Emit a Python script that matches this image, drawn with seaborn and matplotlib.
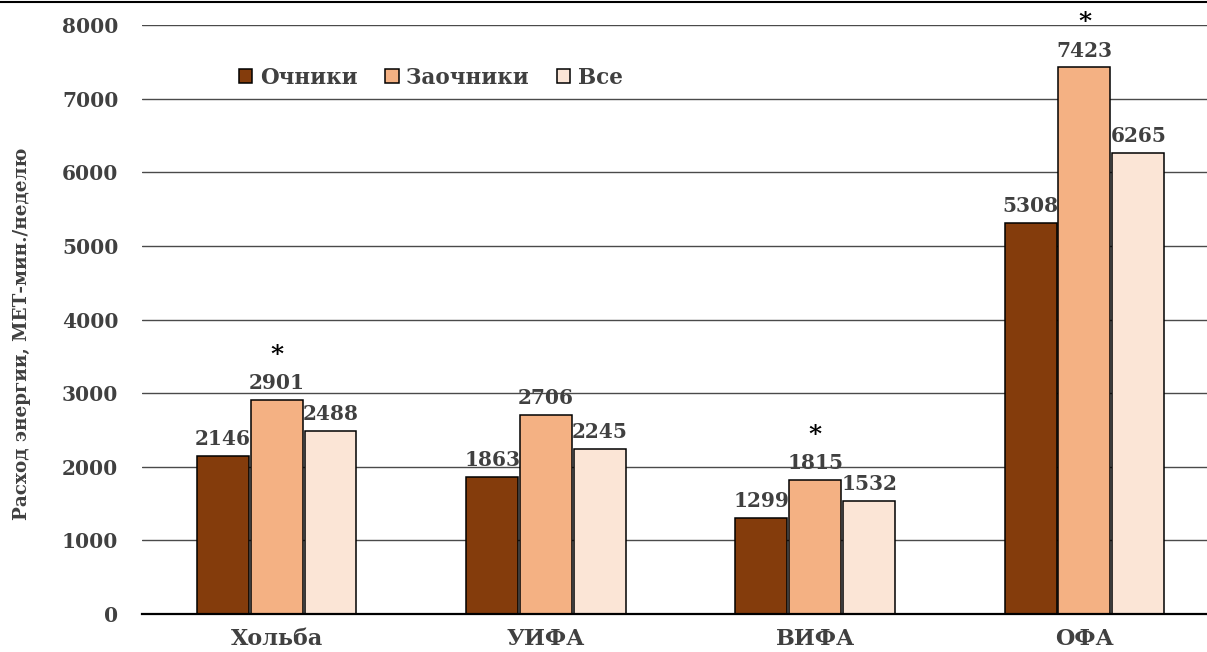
import matplotlib
matplotlib.use("Agg")
import matplotlib.pyplot as plt
import seaborn as sns
import pandas as pd
from matplotlib.lines import Line2D

categories = ["Хольба", "УИФА", "ВИФА", "ОФА"]
series_names = ["Очники", "Заочники", "Все"]
ochniki = [2146, 1863, 1299, 5308]
zaochniki = [2901, 2706, 1815, 7423]
vse = [2488, 2245, 1532, 6265]
# significance marks (over Заочники bars)
stars = ["*", "", "*", "*"]
y_ticks = [0, 1000, 2000, 3000, 4000, 5000, 6000, 7000, 8000]
y_label = "Расход энергии, МЕТ-мин./неделю"

colors = ["#843C0C", "#F4B183", "#FBE5D6"]
text_color = "#404040"

rows = []
for name, vals in zip(series_names, [ochniki, zaochniki, vse]):
    for c, v in zip(categories, vals):
        rows.append({"cat": c, "series": name, "value": v})
df = pd.DataFrame(rows)

sns.set_style("white")
plt.rcParams["font.family"] = ["DejaVu Serif"]
plt.rcParams["font.weight"] = "bold"

W, H = 1207, 652
fig = plt.figure(figsize=(W / 100, H / 100), dpi=100)
ax = fig.add_axes([142 / W, 38 / H, 1 - 142 / W, (614 - 25) / H])

sns.barplot(data=df, x="cat", y="value", hue="series", order=categories,
            hue_order=series_names, palette=colors, width=0.6, gap=0.035,
            edgecolor="black", linewidth=1.1, saturation=1, ax=ax,
            legend=True, zorder=3)

ax.set_ylim(0, 8000)
ax.set_xlim(-0.5, 3.455)
ax.set_yticks(y_ticks)
ax.set_yticklabels([str(t) for t in y_ticks])
ax.yaxis.grid(True, color="#4a4a4a", linewidth=1.0, zorder=0)
ax.set_axisbelow(True)
for s in ["top", "right", "left"]:
    ax.spines[s].set_visible(False)
ax.spines["bottom"].set_color("black")
ax.spines["bottom"].set_linewidth(1.6)
ax.spines["bottom"].set_zorder(4)
ax.tick_params(axis="both", length=0, labelcolor=text_color)
ax.tick_params(axis="y", pad=17, labelsize=14.5)
ax.tick_params(axis="x", pad=10, labelsize=16)
for lbl in ax.get_xticklabels() + ax.get_yticklabels():
    lbl.set_fontweight("bold")
ax.set_xlabel("")
ax.set_ylabel("")
fig.text(22 / W, 1 - 334 / H, y_label, rotation=90, ha="center", va="center",
         fontsize=13.2, fontweight="bold", color=text_color)

for cont in ax.containers:
    ax.bar_label(cont, fmt="%d", padding=5, fontsize=14.5, fontweight="bold",
                 color=text_color, clip_on=False)

# stars over the Заочники bars
zcont = ax.containers[1]
for bar, s, v in zip(zcont, stars, zaochniki):
    if s:
        ax.annotate(s, xy=(bar.get_x() + bar.get_width() / 2, v),
                    xytext=(0, 33), textcoords="offset points", ha="center",
                    va="center", fontsize=18, fontweight="bold", color="black",
                    annotation_clip=False)

handles, labels = ax.get_legend_handles_labels()
ax.legend(handles, labels, ncol=3, frameon=False, loc="center left",
          bbox_to_anchor=((239 - 142) / (W - 142), (614 - 78) / 589),
          borderaxespad=0, borderpad=0, handlelength=0.62,
          handleheight=0.62, handletextpad=0.35, columnspacing=1.3,
          labelcolor=text_color, prop={"weight": "bold", "size": 15.5})

fig.add_artist(Line2D([0, 1], [1 - 1.5 / H, 1 - 1.5 / H], color="black",
                      linewidth=1.5, transform=fig.transFigure))

fig.savefig("out.png", dpi=100)
